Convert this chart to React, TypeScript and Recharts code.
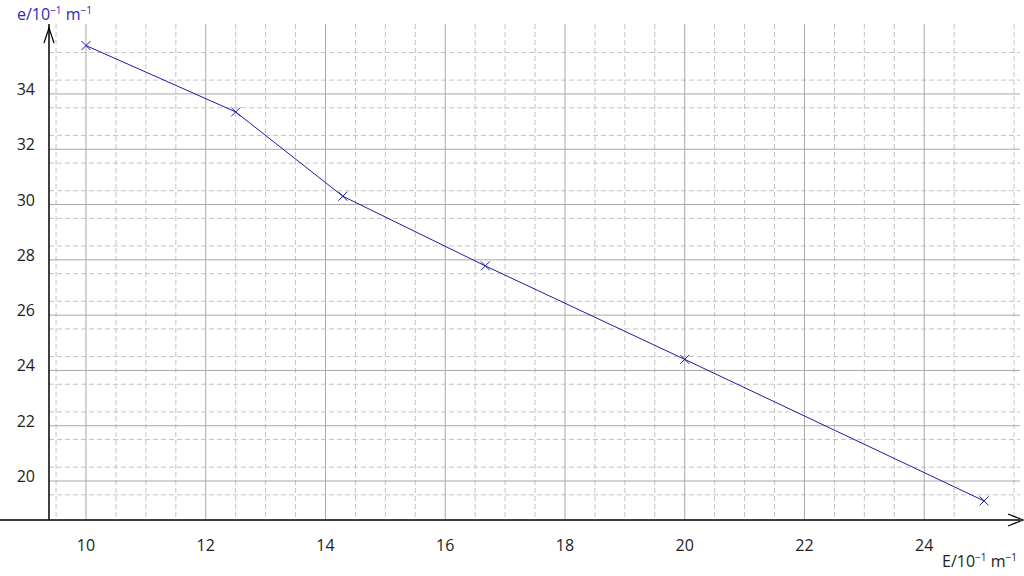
import {
  LineChart,
  Line,
  XAxis,
  YAxis,
  CartesianGrid,
  ReferenceLine,
} from 'recharts';

const eValues = [10, 12.5, 14.29, 16.67, 20, 25];
const yValues = [35.75, 33.35, 30.3, 27.78, 24.4, 19.28];

const xTicks = [10, 12, 14, 16, 18, 20, 22, 24];
const yTicks = [20, 22, 24, 26, 28, 30, 32, 34];

const xMinor = [
  9.5, 10.5, 11, 11.5, 12.5, 13, 13.5, 14.5, 15, 15.5, 16.5, 17, 17.5, 18.5, 19, 19.5,
  20.5, 21, 21.5, 22.5, 23, 23.5, 24.5, 25, 25.5,
];
const yMinor = [
  19, 19.5, 20.5, 21, 21.5, 22.5, 23, 23.5, 24.5, 25, 25.5, 26.5, 27, 27.5, 28.5, 29,
  29.5, 30.5, 31, 31.5, 32.5, 33, 33.5, 34.5, 35, 35.5,
];

const xDomain: [number, number] = [9.382, 25.6];
const yDomain: [number, number] = [18.59, 36.53];

const data = eValues.map((e, i) => ({ e, y: yValues[i] }));

const FONT = '"Open Sans", "Noto Sans", sans-serif';

function Cross(props: any) {
  const { cx, cy, index } = props;
  if (cx == null || cy == null) return <g key={index} />;
  const s = 4.5;
  return (
    <path
      key={index}
      d={`M${cx - s},${cy - s}L${cx + s},${cy + s}M${cx - s},${cy + s}L${cx + s},${cy - s}`}
      stroke="#1c1ca0"
      strokeWidth={1}
      fill="none"
    />
  );
}

function YTick(props: any) {
  const { x, y, payload } = props;
  return (
    <text x={x - 6} y={y + 1} textAnchor="end" fontSize={16} fontFamily={FONT} fill="#222">
      {payload.value}
    </text>
  );
}

function XTick(props: any) {
  const { x, y, payload } = props;
  return (
    <text x={x} y={y + 23} textAnchor="middle" fontSize={16} fontFamily={FONT} fill="#222">
      {payload.value}
    </text>
  );
}

export default function App() {
  return (
    <div style={{ position: 'absolute', left: 0, top: 0, width: 1024, height: 576, background: '#fff' }}>
      <LineChart
        width={1024}
        height={576}
        data={data}
        margin={{ top: 24, right: 4, left: 9, bottom: 26 }}
      >
        <CartesianGrid
          stroke="#c4c4c4"
          strokeDasharray="5 3"
          verticalValues={xMinor}
          horizontalValues={yMinor}
        />
        <CartesianGrid
          stroke="#a8a8a8"
          verticalValues={xTicks}
          horizontalValues={yTicks}
        />
        <XAxis
          dataKey="e"
          type="number"
          domain={xDomain}
          ticks={xTicks}
          allowDataOverflow
          height={30}
          axisLine={false}
          tickLine={false}
          tick={<XTick />}
        />
        <YAxis
          dataKey="y"
          type="number"
          domain={yDomain}
          ticks={yTicks}
          allowDataOverflow
          width={40}
          axisLine={false}
          tickLine={false}
          tick={<YTick />}
        />
        <ReferenceLine
          segment={[
            { x: 8.563, y: yDomain[0] },
            { x: xDomain[1], y: yDomain[0] },
          ]}
          stroke="#000"
          strokeWidth={1.5}
          ifOverflow="visible"
        />
        <ReferenceLine x={xDomain[0]} stroke="#000" strokeWidth={1.5} ifOverflow="visible" />
        <Line
          type="linear"
          dataKey="y"
          stroke="#1c1ca0"
          strokeWidth={1}
          dot={<Cross />}
          activeDot={false}
          isAnimationActive={false}
        />
      </LineChart>
      <svg
        width={1024}
        height={576}
        style={{ position: 'absolute', left: 0, top: 0, pointerEvents: 'none' }}
      >
        <path d="M44,43L49,28L54,43" stroke="#000" strokeWidth={1.2} fill="none" />
        <path d="M1008,514L1023,520L1008,526" stroke="#000" strokeWidth={1.2} fill="none" />
        <text x={17} y={20} fontSize={16} fontFamily={FONT} fill="#2a2ab8">
          e/10
          <tspan dy={-6} fontSize={10}>−1</tspan>
          <tspan dy={6}> m</tspan>
          <tspan dy={-6} fontSize={10}>−1</tspan>
        </text>
        <text x={942} y={567} fontSize={16} fontFamily={FONT} fill="#222">
          E/10
          <tspan dy={-6} fontSize={10}>−1</tspan>
          <tspan dy={6}> m</tspan>
          <tspan dy={-6} fontSize={10}>−1</tspan>
        </text>
      </svg>
    </div>
  );
}
